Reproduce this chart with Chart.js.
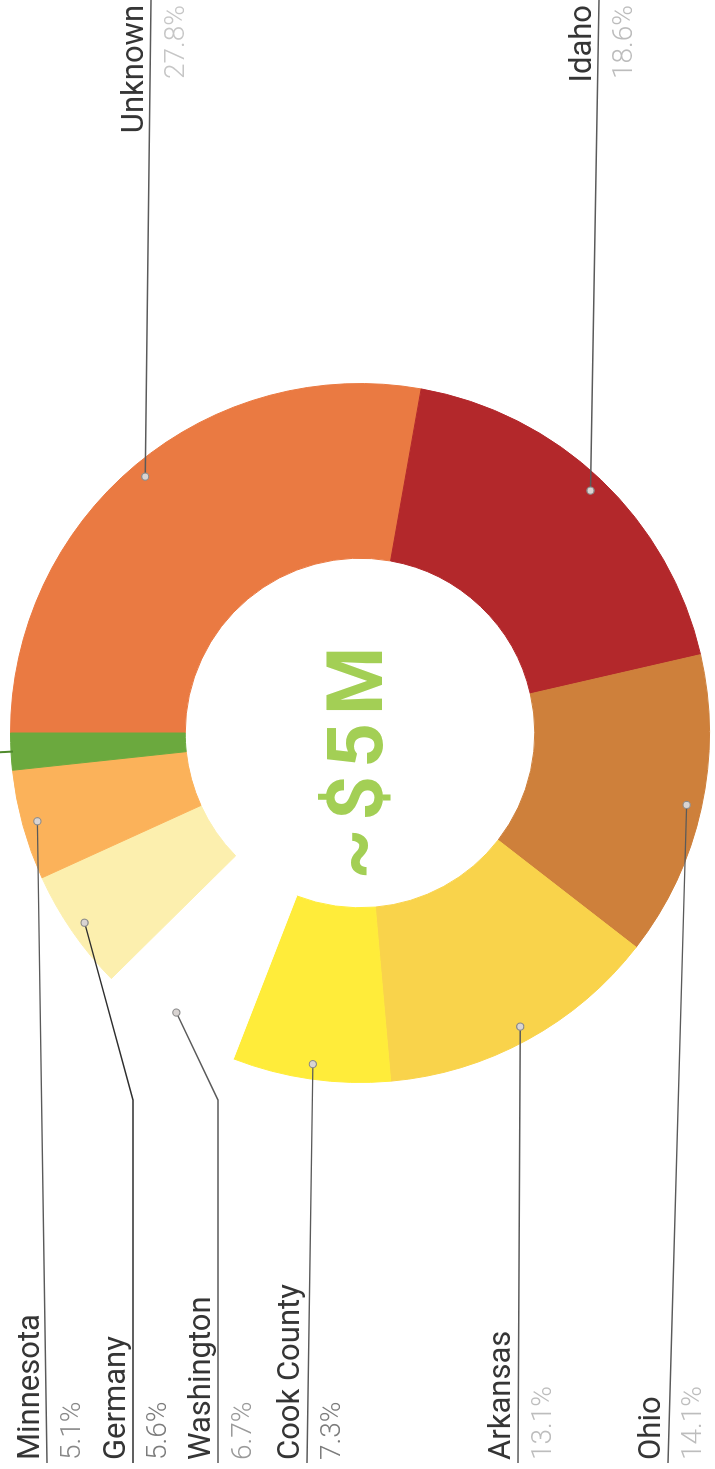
<!DOCTYPE html>
<html>
<head>
<meta charset="utf-8">
<script src="https://cdn.jsdelivr.net/npm/chart.js@4.4.1/dist/chart.umd.min.js"></script>
<style>
  html, body { margin: 0; padding: 0; background: #ffffff; overflow: hidden; }
  body { width: 715px; height: 1469px; position: relative; }
  /* landscape page turned on its side */
  #frame {
    position: absolute; left: 0; top: 0;
    width: 1469px; height: 715px;
    transform-origin: 0 0;
    transform: translateY(1469px) rotate(-90deg);
    background: #ffffff;
  }
  canvas { display: block; }
</style>
</head>
<body>
<div id="frame"><canvas id="c" width="1469" height="715"></canvas></div>
<script>
// Share of funding by origin (%)
const categories = ['Unknown', 'Idaho', 'Ohio', 'Arkansas', 'Cook County', 'Washington', 'Germany', 'Minnesota', 'Other'];
const shares = [27.8, 18.6, 14.1, 13.1, 7.3, 6.7, 5.6, 5.1, 1.7];
const totalLabel = '~$5M';

// Styling
const sliceColors = ['#EA7A42', '#B3282B', '#CE803B', '#F9D34B', '#FFEC3A', '#FFFFFF', '#FCEFAE', '#FBB25A', '#6BA93E'];
const pctColors = ['#c6c6c6', '#bcbcbc', '#bdbdbd', '#bdbdbd', '#7c7c7c', '#9a9a9a', '#7c7c7c', '#888888', null];
const ruleColors = ['#5a5a5a', '#5a5a5a', '#5a5a5a', '#5a5a5a', '#5a5a5a', '#5a5a5a', '#2e2e2e', '#5a5a5a', null];

// Callout placement: which edge the label sits on, the height of its rule,
// and an optional bend point along the rule (null = straight leader)
const calloutLayout = [
  { side: 'right', ruleY: 151, bendX: null },
  { side: 'right', ruleY: 599, bendX: null },
  { side: 'left',  ruleY: 668, bendX: null },
  { side: 'left',  ruleY: 518, bendX: null },
  { side: 'left',  ruleY: 307, bendX: null },
  { side: 'left',  ruleY: 218, bendX: 369 },
  { side: 'left',  ruleY: 133, bendX: 369 },
  { side: 'left',  ruleY: 47,  bendX: null },
  null
];

const FONT = "Roboto, 'Noto Sans', 'Liberation Sans', sans-serif";

const calloutPlugin = {
  id: 'callouts',
  afterDatasetsDraw(chart) {
    const ctx = chart.ctx;
    const W = chart.width;
    const arcs = chart.getDatasetMeta(0).data;
    ctx.save();
    arcs.forEach((arc, i) => {
      const p = arc.getProps(['x', 'y', 'startAngle', 'endAngle', 'outerRadius'], true);
      const mid = (p.startAngle + p.endAngle) / 2;
      const cos = Math.cos(mid), sin = Math.sin(mid);
      const lay = calloutLayout[i];

      if (!lay) {
        // short tick off the rim for the unlabelled sliver
        ctx.strokeStyle = '#4f8a2c';
        ctx.lineWidth = 2;
        ctx.beginPath();
        ctx.moveTo(p.x + cos * (p.outerRadius - 2), p.y + sin * (p.outerRadius - 2));
        ctx.lineTo(p.x + cos * (p.outerRadius + 14), p.y + sin * (p.outerRadius + 14));
        ctx.stroke();
        return;
      }

      const r = p.outerRadius * 0.957;
      const dx = p.x + cos * r;
      const dy = p.y + sin * r;
      const endX = lay.side === 'left' ? 6 : W;

      // leader + rule
      ctx.strokeStyle = ruleColors[i];
      ctx.lineWidth = 1.4;
      ctx.beginPath();
      ctx.moveTo(dx, dy);
      if (lay.bendX !== null) ctx.lineTo(lay.bendX, lay.ruleY);
      ctx.lineTo(endX, lay.ruleY);
      ctx.stroke();

      // anchor dot on the slice
      ctx.beginPath();
      ctx.arc(dx, dy, 3.6, 0, Math.PI * 2);
      ctx.fillStyle = '#d9d4d2';
      ctx.fill();
      ctx.strokeStyle = '#8a8a8a';
      ctx.lineWidth = 1.1;
      ctx.stroke();

      // name above the rule, percentage below
      const tx = lay.side === 'left' ? 9 : W - 5;
      ctx.textAlign = lay.side === 'left' ? 'left' : 'right';
      ctx.textBaseline = 'alphabetic';
      ctx.fillStyle = '#353535';
      ctx.font = `400 31px ${FONT}`;
      ctx.fillText(categories[i], tx, lay.ruleY - 8);
      ctx.fillStyle = pctColors[i];
      ctx.font = `300 28px ${FONT}`;
      ctx.fillText(shares[i].toFixed(1) + '%', tx, lay.ruleY + 33);
    });
    ctx.restore();
  },
  afterDraw(chart) {
    const arc = chart.getDatasetMeta(0).data[0];
    if (!arc) return;
    const ctx = chart.ctx;
    ctx.save();
    ctx.fillStyle = '#A3CF55';
    ctx.font = `700 78px ${FONT}`;
    if ('letterSpacing' in ctx) ctx.letterSpacing = '8px';
    ctx.textAlign = 'center';
    ctx.textBaseline = 'middle';
    ctx.fillText(totalLabel, arc.x - 26, arc.y + 2);
    ctx.restore();
  }
};

new Chart(document.getElementById('c'), {
  type: 'doughnut',
  data: {
    labels: categories,
    datasets: [{
      data: shares,
      backgroundColor: sliceColors,
      borderColor: sliceColors,
      borderWidth: 1
    }]
  },
  options: {
    responsive: false,
    devicePixelRatio: 1,
    animation: false,
    cutout: '50%',
    layout: { padding: { left: 386, right: 383, top: 10, bottom: 5 } },
    plugins: { legend: { display: false }, tooltip: { enabled: false } },
    events: []
  },
  plugins: [calloutPlugin]
});
</script>
</body>
</html>
